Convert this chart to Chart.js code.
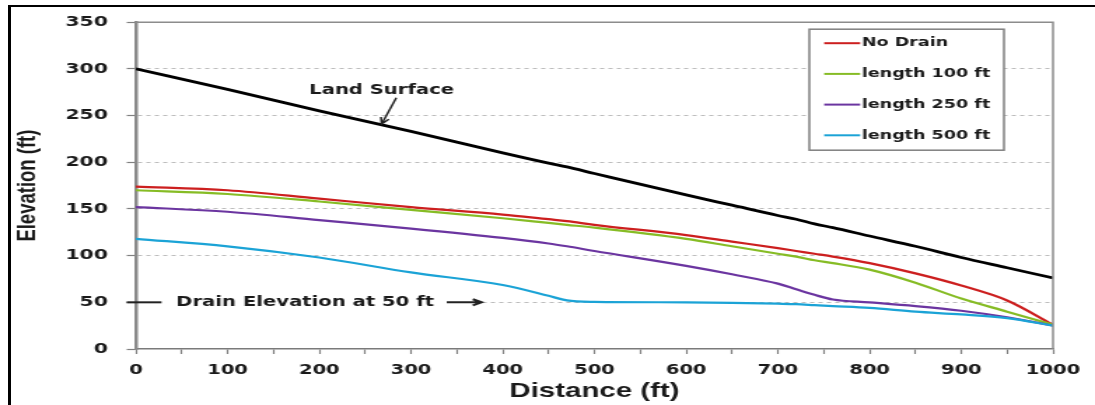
<!DOCTYPE html>
<html>
<head>
<meta charset="utf-8">
<title>Elevation vs Distance</title>
<script src="https://cdn.jsdelivr.net/npm/chart.js@4.4.1/dist/chart.umd.min.js"></script>
<style>
	html, body { margin: 0; padding: 0; background: #fff; overflow: hidden; }
	#wrap { position: relative; width: 1095px; height: 405px; overflow: hidden; background: #fff; }
	#chart { position: absolute; left: 0; top: 0; }
	/* black picture frame, top and left only */
	#frame { position: absolute; left: 8px; top: 5px; width: 1100px; height: 420px; border-top: 2px solid #000; border-left: 3px solid #000; pointer-events: none; }
</style>
</head>
<body>
<div id="wrap">
	<!-- the source image is stretched sideways, so the canvas is drawn narrow and widened by css -->
	<canvas id="chart" width="782" height="405" style="width:1095px;height:405px"></canvas>
	<div id="frame"></div>
</div>
<script>
// distance along the section (ft)
const distance = [0, 100, 200, 300, 400, 450, 470, 500, 600, 650, 700, 720, 740, 760, 800, 850, 900, 950, 1000];

// elevations (ft)
const landSurface = [300, 278, 255, 233, 210, 199, 195, 188, 165, 154, 143, 139, 134, 130, 121, 110, 98, 87, 76];
const noDrain = [174, 170, 161, 152, 144, 139, 137, 133, 122, 115, 108, 105, 102, 99, 92, 81, 68, 52, 26];
const length100 = [170, 166, 158, 149, 140, 135, 133, 130, 118, 110, 102, 99, 95, 92, 85, 71, 54, 40, 26];
const length250 = [152, 147, 138, 129, 119, 113, 110, 105, 89, 80, 70, 64, 58, 53, 50, 46, 41, 34, 25];
const length500 = [118, 110, 98, 82, 68.5, 57, 52, 50.5, 50, 49.5, 48.5, 48, 47, 46, 44, 40, 37, 33, 25];

const seriesLabels = ['No Drain', 'length 100 ft', 'length 250 ft', 'length 500 ft'];

// axis ranges
const xRange = [0, 1000];
const yRange = [0, 350];
const tickStep = 50;

// callouts, in data units
const landLabel = { text: 'Land Surface', x: 268, y: 277 };
const landArrow = { from: [284, 269], to: [268, 241] };
const drainLabel = { text: 'Drain Elevation at 50 ft', x: 44, y: 50 };
const drainDash = [-10, 28];
const drainArrow = [339, 377];

const toPoints = (vals) => distance.map((d, i) => ({ x: d, y: vals[i] }));

const tickFont = { family: '"DejaVu Sans", Verdana, sans-serif', weight: 'bold' };
const textColor = '#1a1a1a';

function drawArrow(ctx, x1, y1, x2, y2) {
	const ang = Math.atan2(y2 - y1, x2 - x1);
	const len = 7;
	ctx.beginPath();
	ctx.moveTo(x1, y1);
	ctx.lineTo(x2, y2);
	ctx.moveTo(x2 - len * Math.cos(ang - 0.45), y2 - len * Math.sin(ang - 0.45));
	ctx.lineTo(x2, y2);
	ctx.lineTo(x2 - len * Math.cos(ang + 0.45), y2 - len * Math.sin(ang + 0.45));
	ctx.stroke();
}

// plot frame, text callouts and the boxed legend
const extras = {
	id: 'extras',
	afterDatasetsDraw(chart) {
		const { ctx, chartArea: a, scales: { x, y } } = chart;
		ctx.save();

		ctx.strokeStyle = '#8c8c8c';
		ctx.lineWidth = 1.5;
		ctx.beginPath();
		ctx.moveTo(a.left, a.top);
		ctx.lineTo(a.right, a.top);
		ctx.lineTo(a.right, a.bottom);
		ctx.stroke();

		ctx.fillStyle = textColor;
		ctx.strokeStyle = '#222';
		ctx.font = 'bold 14px "DejaVu Sans", Verdana, sans-serif';
		ctx.textBaseline = 'middle';

		ctx.textAlign = 'center';
		ctx.fillText(landLabel.text, x.getPixelForValue(landLabel.x), y.getPixelForValue(landLabel.y));
		ctx.lineWidth = 1.5;
		drawArrow(ctx,
			x.getPixelForValue(landArrow.from[0]), y.getPixelForValue(landArrow.from[1]),
			x.getPixelForValue(landArrow.to[0]), y.getPixelForValue(landArrow.to[1]));

		// drain label sits on a white strip over the 50 ft gridline
		const yd = y.getPixelForValue(drainLabel.y);
		ctx.fillStyle = '#fff';
		ctx.fillRect(a.left + 2, yd - 8, x.getPixelForValue(drainArrow[1]) - a.left, 16);
		ctx.fillStyle = textColor;
		ctx.lineWidth = 2;
		ctx.beginPath();
		ctx.moveTo(x.getPixelForValue(drainDash[0]), yd);
		ctx.lineTo(x.getPixelForValue(drainDash[1]), yd);
		ctx.stroke();
		ctx.textAlign = 'left';
		ctx.fillText(drainLabel.text, x.getPixelForValue(drainLabel.x), yd);
		drawArrow(ctx, x.getPixelForValue(drainArrow[0]), yd, x.getPixelForValue(drainArrow[1]), yd);

		// legend
		const bw = 139, bh = 121;
		const bx = a.right - 35 - bw, by = a.top + 7;
		ctx.fillStyle = '#fff';
		ctx.fillRect(bx, by, bw, bh);
		ctx.strokeStyle = '#7f7f7f';
		ctx.lineWidth = 1.5;
		ctx.strokeRect(bx, by, bw, bh);
		ctx.font = 'bold 12.5px "DejaVu Sans", Verdana, sans-serif';
		ctx.textAlign = 'left';
		let row = 0;
		chart.data.datasets.forEach((ds) => {
			if (ds.hideInLegend) return;
			const ry = by + 14 + row * 30.7;
			ctx.strokeStyle = ds.borderColor;
			ctx.lineWidth = 2;
			ctx.beginPath();
			ctx.moveTo(bx + 10.6, ry);
			ctx.lineTo(bx + 36.3, ry);
			ctx.stroke();
			ctx.fillStyle = textColor;
			ctx.fillText(ds.label, bx + 37.5, ry);
			row++;
		});

		ctx.restore();
	},
};

const ctx = document.getElementById('chart').getContext('2d');

const chart = new Chart(ctx, {
	type: 'line',
	data: {
		datasets: [
			{ label: seriesLabels[0], data: toPoints(noDrain), borderColor: '#cc1f1f', order: 3 },
			{ label: seriesLabels[1], data: toPoints(length100), borderColor: '#86bc25', order: 2 },
			{ label: seriesLabels[2], data: toPoints(length250), borderColor: '#6b35a0', order: 1 },
			{ label: seriesLabels[3], data: toPoints(length500), borderColor: '#1ba3d6', order: 0 },
			{ label: 'Land Surface', data: toPoints(landSurface), borderColor: '#000000', borderWidth: 2.8, order: 4, hideInLegend: true },
		],
	},
	options: {
		responsive: false,
		animation: false,
		devicePixelRatio: 1,
		layout: { padding: { left: 0, right: 30, top: 16, bottom: 0 } },
		elements: {
			line: { borderWidth: 2.2, fill: false, cubicInterpolationMode: 'monotone' },
			point: { radius: 0, hoverRadius: 0 },
		},
		plugins: {
			legend: { display: false },
			tooltip: { enabled: false },
		},
		scales: {
			x: {
				type: 'linear',
				min: xRange[0],
				max: xRange[1],
				afterFit: (s) => { s.height = 56; },
				ticks: {
					stepSize: tickStep,
					autoSkip: false,
					maxRotation: 0,
					padding: 8,
					color: textColor,
					font: { ...tickFont, size: 14 },
					callback: (v) => (v % 100 === 0 ? v : ''),
				},
				grid: { drawOnChartArea: false, tickLength: 5, tickColor: '#808080', tickWidth: 1.2 },
				border: { color: '#7a7a7a', width: 1.5 },
				title: {
					display: true,
					text: 'Distance (ft)',
					color: textColor,
					font: { family: '"Liberation Sans", Arial, sans-serif', size: 21, weight: 'bold' },
					padding: { top: 0, bottom: 1 },
				},
			},
			y: {
				min: yRange[0],
				max: yRange[1],
				afterFit: (s) => { s.width = 97; },
				ticks: {
					stepSize: tickStep,
					padding: 13.5,
					color: textColor,
					font: { ...tickFont, size: 14.5 },
				},
				grid: {
					color: (c) => (c.tick && (c.tick.value === yRange[0] || c.tick.value === yRange[1]) ? 'rgba(0,0,0,0)' : '#bdbdbd'),
					lineWidth: 1,
					tickLength: 6.5,
					tickColor: '#808080',
					tickWidth: 1.2,
				},
				border: { color: '#8a8a8a', width: 2.5, dash: [3, 3] },
				title: {
					display: true,
					text: 'Elevation (ft)',
					color: textColor,
					font: { family: '"Liberation Sans", Arial, sans-serif', size: 18.5, weight: 'bold' },
					padding: { top: 9, bottom: 0 },
				},
			},
		},
	},
	plugins: [extras],
});
</script>
</body>
</html>
